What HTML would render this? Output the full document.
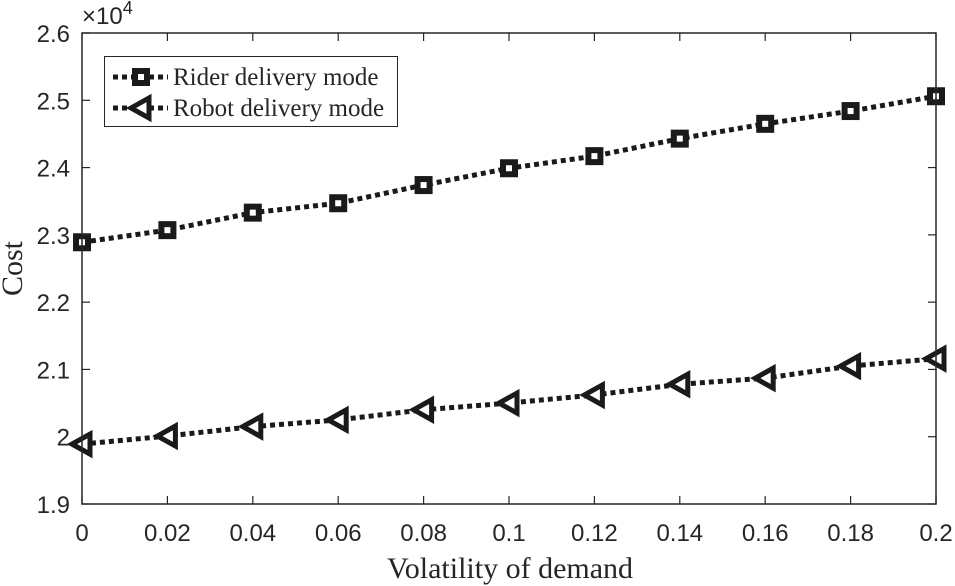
<!DOCTYPE html>
<html><head><meta charset="utf-8"><style>
html,body{margin:0;padding:0;background:#fff;}
svg{display:block;}
</style></head><body>
<svg id="chart" width="955" height="586" xmlns="http://www.w3.org/2000/svg">
<rect x="0" y="0" width="955" height="586" fill="#fff"/>
<g id="series"></g>
<g id="axes"></g>
</svg>
<script>
const xValues = [0,0.02,0.04,0.06,0.08,0.1,0.12,0.14,0.16,0.18,0.2];
const riderCost = [2.289,2.307,2.333,2.347,2.374,2.399,2.417,2.443,2.465,2.484,2.506];
const robotCost = [1.989,2.001,2.015,2.025,2.040,2.050,2.062,2.078,2.087,2.105,2.116];
const xTicks = [0,0.02,0.04,0.06,0.08,0.1,0.12,0.14,0.16,0.18,0.2];
const xTickLabels = ["0","0.02","0.04","0.06","0.08","0.1","0.12","0.14","0.16","0.18","0.2"];
const yTicks = [1.9,2,2.1,2.2,2.3,2.4,2.5,2.6];
const yTickLabels = ["1.9","2","2.1","2.2","2.3","2.4","2.5","2.6"];

const L=82,R=936,T=33,B=504;
const xS=v=>L+(v-0)/(0.2-0)*(R-L);
const yS=v=>B-(v-1.9)/(2.6-1.9)*(B-T);
const NS="http://www.w3.org/2000/svg";
function mk(tag,attrs,parent){const e=document.createElementNS(NS,tag);for(const k in attrs)e.setAttribute(k,attrs[k]);parent.appendChild(e);return e;}
const axes=document.getElementById('axes');
const series=document.getElementById('series');

const box=mk('rect',{x:L,y:T,width:R-L,height:B-T,fill:'none',stroke:'#262626','stroke-width':1.5},axes);



xTicks.forEach((t,i)=>{
  const x=xS(t);
  mk('line',{x1:x,y1:B,x2:x,y2:B-8,stroke:'#262626','stroke-width':1.2},axes);
  mk('line',{x1:x,y1:T,x2:x,y2:T+8,stroke:'#262626','stroke-width':1.2},axes);
  const tx=mk('text',{x:x,y:B+37,'text-anchor':'middle','font-family':'Liberation Sans, sans-serif','font-size':24,fill:'#262626'},axes);
  tx.textContent=xTickLabels[i];
  
  
});
yTicks.forEach((t,i)=>{
  const y=yS(t);
  mk('line',{x1:L,y1:y,x2:L+8,y2:y,stroke:'#262626','stroke-width':1.2},axes);
  mk('line',{x1:R,y1:y,x2:R-8,y2:y,stroke:'#262626','stroke-width':1.2},axes);
  const tx=mk('text',{x:L-12,y:y+9,'text-anchor':'end','font-family':'Liberation Sans, sans-serif','font-size':24,fill:'#262626'},axes);
  tx.textContent=yTickLabels[i];
  
  
});
const exp=mk('text',{x:L,y:T-9,'font-family':'Liberation Sans, sans-serif','font-size':24,fill:'#262626'},axes);
exp.innerHTML='×10<tspan dy="-10" font-size="18">4</tspan>';


const xt=mk('text',{x:(L+R)/2+1,y:578,'text-anchor':'middle','font-family':'Liberation Serif, serif','font-size':30,fill:'#262626'},axes);
xt.textContent='Volatility of demand';


const yt=mk('text',{x:0,y:0,'text-anchor':'middle','font-family':'Liberation Serif, serif','font-size':30,fill:'#262626',transform:`translate(22,${(T+B)/2}) rotate(-90)`},axes);
yt.textContent='Cost';



function square(g,x,y){mk('rect',{x:x-6,y:y-6,width:12,height:12,fill:'#fff',stroke:'#1a1a1a','stroke-width':6},g);}
function tri(g,x,y){mk('polygon',{points:`${x-10},${y} ${x+8},${y-10} ${x+8},${y+10}`,fill:'#fff',stroke:'#1a1a1a','stroke-width':5,'stroke-linejoin':'miter'},g);}

function drawSeries(vals,name,marker){
  const g=mk('g',{},series);
  
  
  const pts=xValues.map((x,i)=>xS(x)+','+yS(vals[i])).join(' ');
  mk('polyline',{points:pts,fill:'none',stroke:'#1a1a1a','stroke-width':5,'stroke-dasharray':'5 4'},g);
  xValues.forEach((x,i)=>marker(g,xS(x),yS(vals[i])));
}
drawSeries(riderCost,'rider-series',square);
drawSeries(robotCost,'robot-series',tri);

const lg=mk('g',{},axes);


mk('rect',{x:104.5,y:56.5,width:293,height:70,fill:'#fff',stroke:'#262626','stroke-width':1},lg);
[[77,'Rider delivery mode',square,'legend-entry-rider'],[108,'Robot delivery mode',tri,'legend-entry-robot']].forEach(([y,txt,m,n])=>{
  const e=mk('g',{},lg);
  
  
  mk('line',{x1:113,y1:y,x2:168,y2:y,stroke:'#1a1a1a','stroke-width':5,'stroke-dasharray':'5 4'},e);
  m(e,141,y);
  const t=mk('text',{x:173,y:y+8,'font-family':'Liberation Serif, serif','font-size':25,fill:'#262626'},e);
  t.textContent=txt;
});
</script>
</body></html>
